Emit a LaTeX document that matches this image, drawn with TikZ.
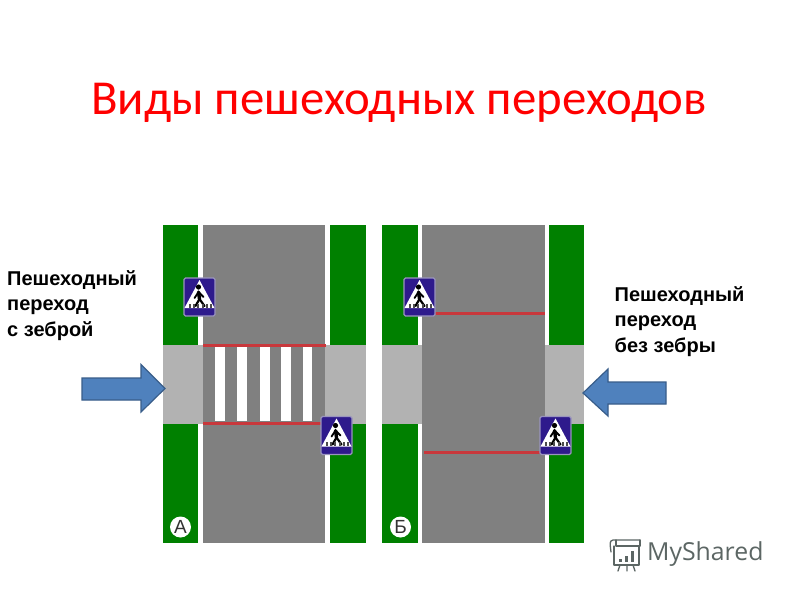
\documentclass[tikz,border=0pt]{standalone}
\usepackage{fontspec}
\setmainfont{Liberation Sans}
\newfontfamily\titlefont{Carlito}
\newfontfamily\logofont{Open Sans}
\definecolor{grass}{HTML}{008000}
\definecolor{road}{HTML}{808080}
\definecolor{walk}{HTML}{B2B2B2}
\definecolor{stopline}{HTML}{C8383C}
\definecolor{signblue}{HTML}{2E1A8C}
\definecolor{signedge}{HTML}{9A94BE}
\definecolor{arrowfill}{HTML}{4F81BD}
\definecolor{arrowedge}{HTML}{385D8A}
\definecolor{logogrey}{HTML}{5C6664}
\tikzset{
  x=1pt,y=-1pt,
  grassarea/.style={fill=grass},
  roadarea/.style={fill=road},
  walkarea/.style={fill=walk},
  stripe/.style={fill=white},
  redline/.style={fill=stopline},
  bigarrow/.style={fill=arrowfill,draw=arrowedge,line width=1.2pt,line join=miter},
  sidelabel/.style={font=\fontsize{20}{25.4}\selectfont\bfseries,align=left,anchor=north west,inner sep=0pt,text=black},
  panelletter/.style={circle,fill=white,draw=none,inner sep=0pt,minimum size=21pt,font=\fontsize{19}{19}\selectfont,text=black!80},
  signpic/.pic={
    \fill[signblue,draw=signedge,line width=1.2pt,rounded corners=1.5pt] (-15.5,-19) rectangle (15.5,19);
    \fill[white] (0,-17) -- (15,11) -- (-15,11) -- cycle;
    \fill[black] (-1,-10) circle (2.6);
    \draw[black,line width=3.4pt,line cap=round] (-1,-5) -- (0,2);
    \draw[black,line width=1.8pt,line cap=round] (-1,-5) -- (-5,1) (-1,-5) -- (4,0);
    \draw[black,line width=2.2pt,line cap=round] (0,2) -- (-4,9) (0,2) -- (5,9);
    \foreach \q in {-11,-7,-3,2,6,10}{\fill[black!70] (\q,6.5) rectangle ++(2,4);}
  }
}
\begin{document}
\begin{tikzpicture}
\useasboundingbox (0,0) rectangle (800,600);
\fill[white] (0,0) rectangle (800,600);
\node[text=red,font=\titlefont\fontsize{48.8}{50}\selectfont,inner sep=0pt] (title) at (399,103) {Виды пешеходных переходов};

% panel A
\fill[grassarea] (163,225) rectangle (198,345);
\fill[grassarea] (330,225) rectangle (366,345);
\fill[grassarea] (163,424) rectangle (198,543);
\fill[grassarea] (330,424) rectangle (366,543);
\fill[walkarea] (163,345) rectangle (366,424);
\fill[roadarea] (203,225) rectangle (325,543);
\foreach \a/\b in {215/224.5,237/247,260/270,280.5/291,303/312}{\fill[stripe] (\a,347) rectangle (\b,421);}
\fill[redline] (203,344) rectangle (326,347);
\fill[redline] (203,421.5) rectangle (326,424.5);

% panel B
\fill[grassarea] (382,225) rectangle (418,345);
\fill[grassarea] (549,225) rectangle (584,345);
\fill[grassarea] (382,424) rectangle (418,543);
\fill[grassarea] (549,424) rectangle (584,543);
\fill[walkarea] (382,345) rectangle (584,424);
\fill[roadarea] (422,225) rectangle (545,543);
\fill[redline] (432,312) rectangle (545,315);
\fill[redline] (424,450.5) rectangle (545,453.5);

% signs
\pic at (199.5,297) {signpic};
\pic at (336.5,435.5) {signpic};
\pic at (419.5,297) {signpic};
\pic at (555.5,435.5) {signpic};

% letters
\node[panelletter] (letterA) at (180.5,527) {А};
\node[panelletter] (letterB) at (400.5,527) {Б};

% arrows
\draw[bigarrow] (82,378) -- (141,378) -- (141,364.5) -- (165,388.5) -- (141,412) -- (141,400) -- (82,400) -- cycle;
\draw[bigarrow] (666,382) -- (608,382) -- (608,369) -- (583,393) -- (608,416) -- (608,404) -- (666,404) -- cycle;

% labels
\node[sidelabel] (leftlabel) at (7,270.5) {Пешеходный\\переход\\с зеброй};
\node[sidelabel] (rightlabel) at (614.5,286.5) {Пешеходный\\переход\\без зебры};

% logo
\begin{scope}[logogrey,line width=1.3pt,line cap=round,line join=round]
  \draw (611,552) .. controls (609,539) and (611,540) .. (616,540) -- (640,540);
  \draw (640,540) -- (640,546) -- (616,546) (616,540) -- (616,546);
  \draw (614,546) -- (614,565) -- (639,565) -- (639,546);
  \draw (620,565) -- (618,571) (627,565) -- (627,571) (633,565) -- (635,571);
  \fill (619,559) rectangle (622,562);
  \fill (625,556) rectangle (628,562);
  \fill (631,551) rectangle (634,562);
\end{scope}
\node[anchor=west,inner sep=0pt,text=logogrey,font=\logofont\fontsize{24.8}{25}\selectfont] (logo) at (647,554) {MyShared};
\end{tikzpicture}
\end{document}
